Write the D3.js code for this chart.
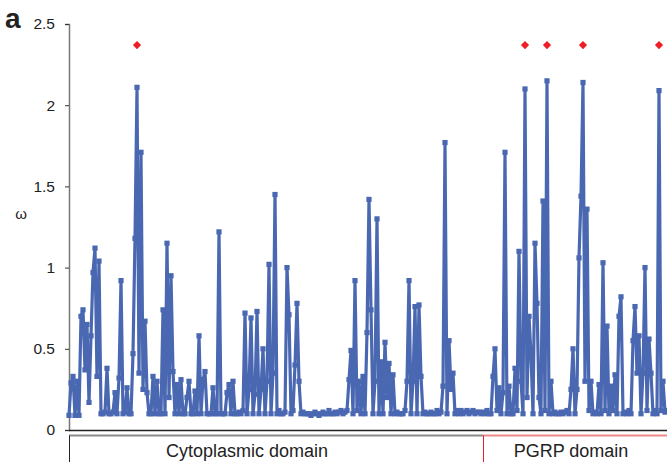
<!DOCTYPE html>
<html>
<head>
<meta charset="utf-8">
<script src="https://cdn.jsdelivr.net/npm/d3@7"></script>
<style>
  body { margin: 0; background: #fff; }
  text { font-family: "Liberation Sans", Arial, sans-serif; }
</style>
</head>
<body>
<script>
// omega per codon position (one row = 20 positions)
var omega = [
  0.09, 0.29, 0.33, 0.09, 0.30, 0.09, 0.70, 0.74, 0.37, 0.65, 0.17, 0.58, 0.97, 1.12, 0.33, 1.04, 0.10, 0.10, 0.11, 0.38,
  0.10, 0.10, 0.11, 0.23, 0.10, 0.32, 0.92, 0.10, 0.11, 0.26, 0.10, 0.10, 0.47, 1.18, 2.11, 0.35, 1.71, 0.25, 0.67, 0.23,
  0.10, 0.10, 0.33, 0.10, 0.30, 0.10, 0.10, 0.74, 0.10, 1.15, 0.20, 0.95, 0.36, 0.10, 0.28, 0.10, 0.31, 0.10, 0.10, 0.20,
  0.30, 0.10, 0.10, 0.24, 0.10, 0.58, 0.10, 0.31, 0.36, 0.10, 0.10, 0.10, 0.26, 0.10, 0.10, 1.22, 0.10, 0.10, 0.10, 0.23,
  0.28, 0.10, 0.30, 0.10, 0.10, 0.11, 0.10, 0.12, 0.72, 0.10, 0.25, 0.69, 0.10, 0.22, 0.73, 0.10, 0.25, 0.50, 0.10, 0.30,
  1.02, 0.10, 0.35, 1.45, 0.10, 0.12, 0.10, 0.10, 0.11, 1.00, 0.71, 0.10, 0.12, 0.40, 0.78, 0.30, 0.10, 0.11, 0.10, 0.10,
  0.10, 0.09, 0.10, 0.11, 0.10, 0.09, 0.10, 0.11, 0.10, 0.10, 0.12, 0.10, 0.10, 0.11, 0.10, 0.11, 0.12, 0.10, 0.11, 0.12,
  0.31, 0.49, 0.10, 0.92, 0.12, 0.30, 0.10, 0.33, 0.10, 0.60, 1.42, 0.74, 0.10, 0.30, 1.30, 0.10, 0.42, 0.10, 0.54, 0.20,
  0.41, 0.10, 0.34, 0.10, 0.11, 0.10, 0.10, 0.10, 0.12, 0.30, 0.92, 0.10, 0.30, 0.76, 0.10, 0.77, 0.33, 0.10, 0.11, 0.10,
  0.10, 0.11, 0.10, 0.10, 0.12, 0.10, 0.11, 0.27, 1.77, 0.10, 0.55, 0.25, 0.35, 0.10, 0.12, 0.10, 0.12, 0.10, 0.11, 0.12,
  0.10, 0.11, 0.12, 0.10, 0.11, 0.11, 0.10, 0.11, 0.10, 0.12, 0.10, 0.10, 0.33, 0.50, 0.12, 0.26, 0.10, 0.23, 1.71, 0.10,
  0.27, 0.10, 0.10, 0.38, 0.12, 1.10, 0.30, 0.10, 2.10, 0.20, 0.70, 0.46, 0.10, 1.15, 0.78, 0.20, 0.10, 1.41, 0.12, 2.15,
  0.10, 0.30, 0.10, 0.11, 0.10, 0.10, 0.11, 0.10, 0.11, 0.12, 0.10, 0.25, 0.50, 0.10, 0.25, 1.06, 1.44, 2.14, 0.30, 1.36,
  0.12, 0.30, 0.10, 0.11, 0.10, 0.28, 0.10, 1.03, 0.12, 0.64, 0.10, 0.27, 0.12, 0.34, 0.10, 0.70, 0.82, 0.10, 0.11, 0.10,
  0.12, 0.10, 0.55, 0.76, 0.35, 0.58, 0.10, 0.35, 1.00, 0.12, 0.56, 0.35, 0.10, 0.12, 0.10, 2.09, 0.12, 0.30, 0.11, 0.12
];

// positions flagged by red diamonds
var selected = [34, 228, 239, 257, 295];
var markY = 2.37;

var yTicks = [0, 0.5, 1, 1.5, 2, 2.5];

// domains along the sequence (index ranges)
var domainNames = ["Cytoplasmic domain", "PGRP domain"];
var domainStart = [0, 207];
var domainEnd = [207, 299];

var width = 667, height = 462;
var margin = { left: 69, right: 667, top: 24, bottom: 430 };

var svg = d3.select("body").append("svg")
  .attr("width", width)
  .attr("height", height);

var x = d3.scaleLinear().domain([0, omega.length - 1]).range([margin.left, margin.right]);
var y = d3.scaleLinear().domain([0, 2.5]).range([margin.bottom, margin.top]);

// y axis
var yAxis = d3.axisLeft(y)
  .tickValues(yTicks)
  .tickFormat(d3.format("~g"))
  .tickSize(4)
  .tickPadding(10);

var gy = svg.append("g").attr("transform", "translate(" + margin.left + ",0)").call(yAxis);
gy.select(".domain").attr("stroke", "#777").attr("stroke-width", 1.5);
gy.selectAll(".tick line").attr("stroke", "#333");
gy.selectAll(".tick text").attr("font-size", 15.5).attr("fill", "#222")
  .attr("font-family", "Liberation Sans, Arial, sans-serif");

// x baseline
svg.append("line")
  .attr("x1", margin.left).attr("x2", margin.right)
  .attr("y1", margin.bottom + 0.5).attr("y2", margin.bottom + 0.5)
  .attr("stroke", "#222").attr("stroke-width", 1.5);

// the omega line
var line = d3.line()
  .x(function(d, i) { return x(i); })
  .y(function(d) { return y(d); });

svg.append("path")
  .datum(omega)
  .attr("fill", "none")
  .attr("stroke", "#4a68b2")
  .attr("stroke-width", 3.2)
  .attr("stroke-linejoin", "round")
  .attr("d", line);

svg.append("g")
  .selectAll("rect")
  .data(omega)
  .join("rect")
  .attr("x", function(d, i) { return x(i) - 2.6; })
  .attr("y", function(d) { return y(d) - 2.6; })
  .attr("width", 5.2)
  .attr("height", 5.2)
  .attr("fill", "#4a68b2");

// red diamonds
svg.append("g")
  .selectAll("path")
  .data(selected)
  .join("path")
  .attr("transform", function(d) { return "translate(" + x(d) + "," + y(markY) + ") rotate(45)"; })
  .attr("d", d3.symbol().type(d3.symbolSquare).size(34))
  .attr("fill", "#ee1c24");

// domain bars
var barY = 435.5;
var domainColor = ["#8a8a8a", "#f08a8a"];
var tickColor = ["#222", "#e8202a"];
svg.append("g").selectAll("line")
  .data(domainNames)
  .join("line")
  .attr("x1", function(d, i) { return x(domainStart[i]); })
  .attr("x2", function(d, i) { return x(domainEnd[i]); })
  .attr("y1", barY).attr("y2", barY)
  .attr("stroke", function(d, i) { return domainColor[i]; })
  .attr("stroke-width", 2);

svg.append("g").selectAll("line")
  .data(domainNames)
  .join("line")
  .attr("x1", function(d, i) { return x(domainStart[i]) + 0.5; })
  .attr("x2", function(d, i) { return x(domainStart[i]) + 0.5; })
  .attr("y1", barY).attr("y2", height)
  .attr("stroke", function(d, i) { return tickColor[i]; })
  .attr("stroke-width", 1);

var labelX = [247, 571];
svg.append("g").selectAll("text")
  .data(domainNames)
  .join("text")
  .attr("x", function(d, i) { return labelX[i]; })
  .attr("y", 457)
  .attr("text-anchor", "middle")
  .attr("font-size", 18)
  .attr("fill", "#222")
  .text(function(d) { return d; });

// axis label and panel letter
svg.append("text")
  .attr("x", 21).attr("y", 219)
  .attr("text-anchor", "middle")
  .attr("font-size", 15)
  .attr("fill", "#222")
  .attr("font-family", "DejaVu Serif, serif")
  .text("ω");

svg.append("text")
  .attr("x", 5).attr("y", 28)
  .attr("font-size", 28)
  .attr("font-weight", "bold")
  .attr("fill", "#222")
  .text("a");
</script>
</body>
</html>
